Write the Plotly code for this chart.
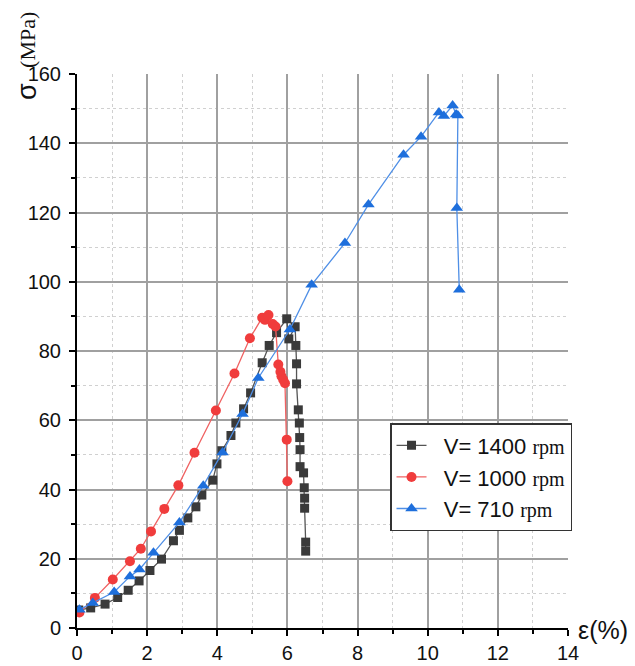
import plotly.graph_objects as go

# V = 1400 rpm
x1400 = [0.05, 0.39, 0.80, 1.16, 1.46, 1.77, 2.08, 2.41, 2.75, 2.92, 3.16, 3.39, 3.56, 3.87, 3.99,
         4.13, 4.39, 4.53, 4.75, 4.95, 5.28, 5.48, 5.69, 5.98, 6.04, 6.22, 6.24, 6.26, 6.26, 6.31,
         6.34, 6.35, 6.36, 6.36, 6.46, 6.48, 6.49, 6.49, 6.52, 6.52]
y1400 = [5.2, 5.8, 6.9, 8.8, 10.9, 13.6, 16.6, 19.9, 25.2, 28.2, 31.8, 35.0, 38.4, 42.7, 47.4,
         51.2, 55.6, 59.2, 63.3, 67.9, 76.6, 81.6, 85.3, 89.3, 83.5, 87.0, 81.6, 76.3, 70.5, 63.0,
         59.2, 55.0, 51.5, 46.6, 44.8, 40.5, 37.5, 34.6, 24.8, 22.2]

# V = 1000 rpm
x1000 = [0.07, 0.51, 1.02, 1.51, 1.82, 2.11, 2.49, 2.89, 3.35, 3.96, 4.49, 4.93, 5.28, 5.36,
         5.46, 5.58, 5.66, 5.74, 5.80, 5.83, 5.88, 5.93, 5.98, 6.00]
y1000 = [4.5, 8.7, 14.0, 19.3, 22.9, 27.9, 34.4, 41.2, 50.6, 62.8, 73.5, 83.7, 89.6, 89.0,
         90.4, 87.8, 87.1, 76.1, 74.0, 72.7, 71.7, 70.7, 54.4, 42.4]

# V = 710 rpm
x710 = [0.07, 0.45, 1.06, 1.51, 1.78, 2.18, 2.92, 3.60, 4.15, 4.72, 5.17, 6.07, 6.69, 7.64,
        8.31, 9.31, 9.81, 10.32, 10.46, 10.71, 10.81, 10.86, 10.83, 10.90]
y710 = [5.3, 7.2, 10.4, 14.9, 16.9, 21.7, 30.5, 41.1, 50.7, 61.8, 72.2, 86.2, 99.1, 111.2,
        122.3, 136.7, 141.9, 148.9, 147.9, 150.9, 148.3, 148.0, 121.3, 97.7]

x_ticks = [0, 2, 4, 6, 8, 10, 12, 14]
y_ticks = [0, 20, 40, 60, 80, 100, 120, 140, 160]

RPM = '<span style="font-family:Liberation Serif;font-size:20px">rpm</span>'
PAD = "&nbsp;&nbsp;"

fig = go.Figure()
fig.add_trace(go.Scatter(x=x1400, y=y1400, mode="lines+markers", name=PAD + "V= 1400 " + RPM,
                         line=dict(color="#555555", width=1.3),
                         marker=dict(symbol="square", size=9, color="#3a3a3a")))
fig.add_trace(go.Scatter(x=x1000, y=y1000, mode="lines+markers", name=PAD + "V= 1000 " + RPM,
                         line=dict(color="#f06262", width=1.3),
                         marker=dict(symbol="circle", size=10, color="#f03c3c")))
fig.add_trace(go.Scatter(x=x710, y=y710, mode="lines+markers", name=PAD + "V= 710 " + RPM,
                         line=dict(color="#4f8fe6", width=1.3),
                         marker=dict(symbol="triangle-up", size=11, color="#1e6fdc")))

NARROW = "Liberation Sans Narrow, Arial Narrow, Liberation Sans, Arial"
tickfont = dict(family=NARROW, size=20, color="#111")

fig.update_layout(
    width=635, height=666,
    margin=dict(l=77, r=67, t=74, b=38),
    paper_bgcolor="white", plot_bgcolor="white",
    showlegend=True,
    legend=dict(x=0.6375, y=0.37, xanchor="left", yanchor="top",
                bordercolor="#333333", borderwidth=1.5, bgcolor="white",
                font=dict(family=NARROW, size=22, color="#111"),
                tracegroupgap=0),
    xaxis=dict(range=[0, 14], tickvals=x_ticks, ticktext=[str(v) for v in x_ticks],
               showline=True, linecolor="black", linewidth=2, automargin=False,
               ticks="outside", ticklen=6, tickwidth=2, tickcolor="black",
               showgrid=True, gridcolor="#a0a0a0", gridwidth=1.5, zeroline=False,
               minor=dict(dtick=1, ticks="outside", ticklen=4, tickwidth=1.5, tickcolor="black",
                          showgrid=True, gridcolor="#d0d0d0", griddash="dot", gridwidth=1),
               tickfont=tickfont, fixedrange=True),
    yaxis=dict(range=[0, 160], tickvals=y_ticks, ticktext=[str(v) for v in y_ticks],
               showline=True, linecolor="black", linewidth=2, automargin=False,
               ticks="outside", ticklen=6, tickwidth=2, tickcolor="black",
               showgrid=True, gridcolor="#a0a0a0", gridwidth=1.5, zeroline=False,
               minor=dict(dtick=10, ticks="outside", ticklen=4, tickwidth=1.5, tickcolor="black",
                          showgrid=True, gridcolor="#d0d0d0", griddash="dot", gridwidth=1),
               tickfont=tickfont, ticklabelstandoff=4, fixedrange=True),
    annotations=[
        dict(text="σ", xref="paper", yref="paper", x=-0.102, y=0.9693, textangle=-90,
             showarrow=False, font=dict(family="Liberation Sans, Arial", size=27, color="#111"),
             xanchor="center", yanchor="middle"),
        dict(text="(MPa)", xref="paper", yref="paper", x=-0.100, y=1.0614, textangle=-90,
             showarrow=False, font=dict(family="Liberation Serif, Times New Roman", size=22, color="#111"),
             xanchor="center", yanchor="middle"),
        dict(text="ε(%)", xref="paper", yref="paper", x=1.071, y=-0.004,
             showarrow=False, font=dict(family=NARROW, size=25, color="#111"),
             xanchor="center", yanchor="middle"),
    ],
)

fig.write_html("out.html", config={"displayModeBar": False},
               post_script="document.body.style.margin='0';")
